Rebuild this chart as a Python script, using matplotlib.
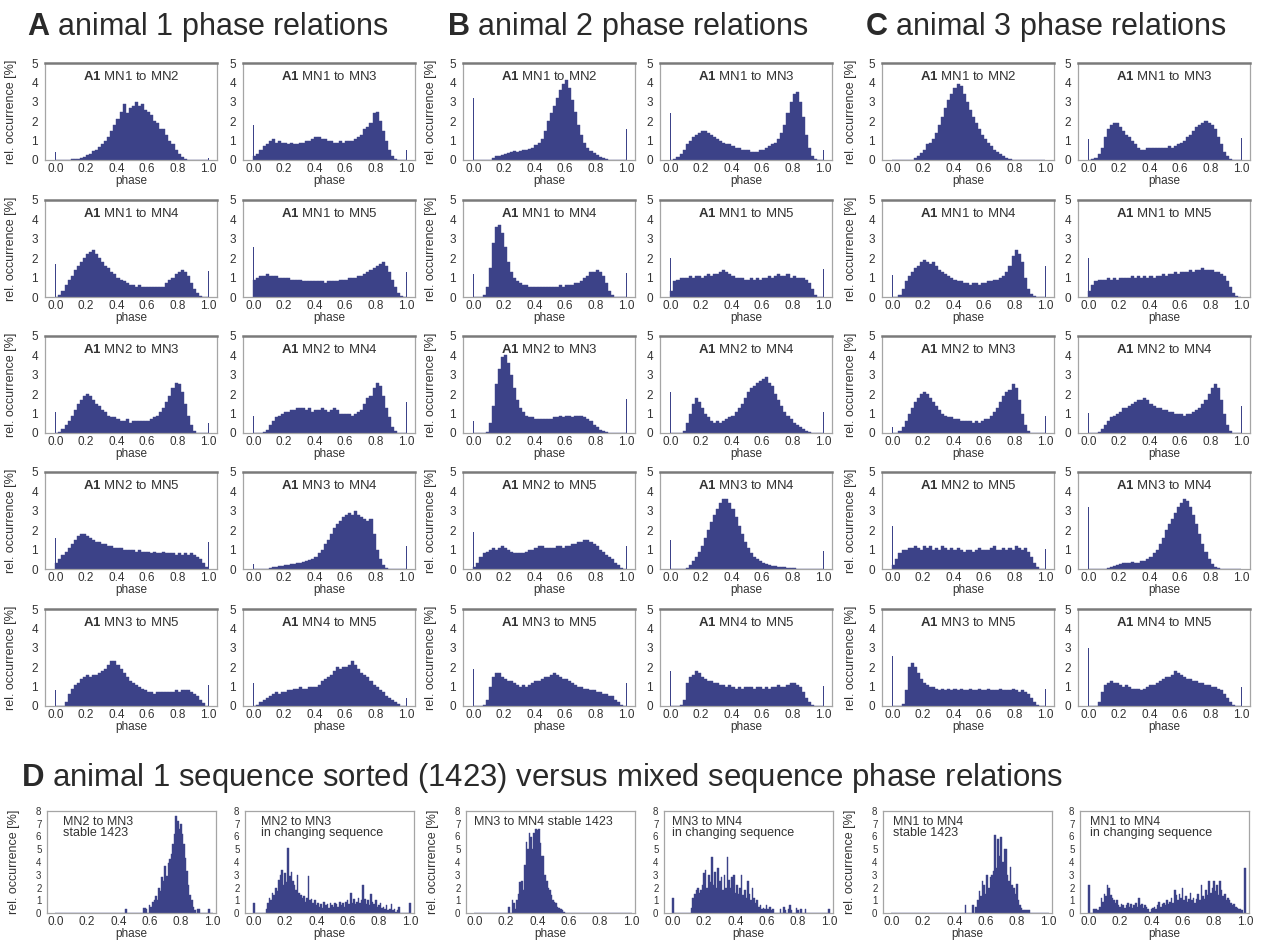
import numpy as np
import matplotlib
matplotlib.use("Agg")
import matplotlib.pyplot as plt

plt.rcParams["font.family"] = ["Liberation Sans", "DejaVu Sans"]
plt.rcParams["mathtext.fontset"] = "custom"
plt.rcParams["mathtext.rm"] = "Liberation Sans"
plt.rcParams["mathtext.bf"] = "Liberation Sans:bold"

# ---------------------------------------------------------------------------
# phase histograms, rel. occurrence [%] in 0.02 phase bins (0.00-1.00)
# plus the single-bin counts at phase exactly 0 and exactly 1
# ---------------------------------------------------------------------------
pairs = ["MN1 to MN2", "MN1 to MN3", "MN1 to MN4", "MN1 to MN5", "MN2 to MN3",
         "MN2 to MN4", "MN2 to MN5", "MN3 to MN4", "MN3 to MN5", "MN4 to MN5"]

# animal 1
a_12 = [0, 0, 0, 0.02, 0.02, 0.03, 0.05, 0.06, 0.1, 0.15,
        0.25, 0.3, 0.45, 0.5, 0.65, 0.8, 1.0, 1.2, 1.5, 1.8,
        2.1, 2.5, 2.9, 2.4, 2.7, 2.8, 3.0, 2.8, 2.9, 2.6,
        2.5, 2.3, 2.0, 1.9, 1.6, 1.6, 1.3, 1.0, 0.8, 0.5,
        0.3, 0.15, 0.05, 0.02, 0, 0, 0, 0, 0, 0]
a_13 = [0.2, 0.3, 0.5, 0.7, 0.8, 1.0, 1.1, 0.9, 1.0, 0.9,
        0.9, 0.8, 0.9, 0.8, 0.8, 0.9, 0.9, 1.0, 1.0, 1.1,
        1.2, 1.2, 1.1, 1.1, 1.0, 1.0, 0.9, 0.9, 1.0, 0.9,
        1.0, 1.0, 1.0, 1.1, 1.2, 1.3, 1.6, 1.7, 1.9, 2.4,
        2.5, 2.0, 1.5, 1.0, 0.5, 0.2, 0.05, 0, 0, 0]
a_14 = [0, 0.1, 0.3, 0.6, 0.9, 1.1, 1.4, 1.6, 1.8, 2.0,
        2.2, 2.3, 2.4, 2.2, 2.0, 1.8, 1.6, 1.5, 1.3, 1.2,
        1.0, 0.9, 0.8, 0.7, 0.6, 0.6, 0.5, 0.6, 0.5, 0.5,
        0.5, 0.5, 0.5, 0.5, 0.5, 0.5, 0.7, 0.9, 1.0, 1.2,
        1.3, 1.4, 1.3, 1.1, 0.7, 0.4, 0.2, 0.05, 0, 0]
a_15 = [0.9, 1.0, 1.1, 1.1, 1.2, 1.1, 1.1, 1.1, 1.0, 1.0,
        1.0, 1.0, 0.9, 0.9, 0.9, 0.9, 0.8, 0.8, 0.8, 0.8,
        0.8, 0.8, 0.8, 0.7, 0.8, 0.8, 0.8, 0.8, 0.9, 0.9,
        0.9, 1.0, 1.0, 1.0, 1.1, 1.1, 1.2, 1.3, 1.4, 1.5,
        1.6, 1.7, 1.8, 1.6, 1.3, 0.9, 0.5, 0.2, 0.05, 0]
a_23 = [0, 0.05, 0.2, 0.4, 0.6, 0.9, 1.2, 1.5, 1.7, 1.9,
        2.0, 1.9, 1.7, 1.5, 1.4, 1.2, 1.1, 0.9, 0.8, 0.8,
        0.7, 0.6, 0.6, 0.7, 0.5, 0.6, 0.6, 0.6, 0.6, 0.6,
        0.6, 0.7, 0.8, 0.9, 1.1, 1.3, 1.6, 1.9, 2.3, 2.6,
        2.5, 2.1, 1.5, 0.9, 0.4, 0.1, 0, 0, 0, 0]
a_24 = [0, 0, 0, 0.05, 0.15, 0.4, 0.6, 0.8, 0.9, 1.0,
        1.1, 1.1, 1.2, 1.2, 1.3, 1.3, 1.3, 1.2, 1.3, 1.1,
        1.2, 1.2, 1.3, 1.2, 1.1, 1.2, 1.3, 1.2, 1.0, 1.0,
        1.0, 1.0, 0.9, 1.0, 1.1, 1.2, 1.5, 1.8, 1.9, 2.3,
        2.6, 2.4, 1.9, 1.3, 0.8, 0.3, 0.1, 0, 0, 0]
a_25 = [0.3, 0.5, 0.7, 0.9, 1.1, 1.3, 1.5, 1.7, 1.8, 1.8,
        1.7, 1.6, 1.5, 1.4, 1.4, 1.3, 1.3, 1.2, 1.2, 1.1,
        1.1, 1.1, 1.0, 1.0, 1.0, 1.0, 0.9, 1.0, 0.9, 0.9,
        0.9, 0.8, 0.9, 0.8, 0.8, 0.9, 0.8, 0.8, 0.8, 0.7,
        0.8, 0.7, 0.8, 0.7, 0.8, 0.7, 0.6, 0.5, 0.3, 0.1]
a_34 = [0, 0, 0, 0, 0.02, 0.05, 0.1, 0.12, 0.15, 0.15,
        0.2, 0.2, 0.25, 0.25, 0.3, 0.3, 0.35, 0.4, 0.45, 0.5,
        0.6, 0.8, 1.0, 1.3, 1.5, 1.8, 2.1, 2.3, 2.5, 2.7,
        2.8, 2.9, 2.8, 3.0, 2.8, 2.7, 2.6, 2.5, 2.6, 1.8,
        1.0, 0.5, 0.2, 0.05, 0, 0, 0, 0, 0, 0]
a_35 = [0, 0, 0, 0.2, 0.6, 0.9, 1.1, 1.2, 1.4, 1.5,
        1.6, 1.5, 1.6, 1.6, 1.7, 1.8, 1.9, 2.1, 2.3, 2.3,
        2.1, 1.9, 1.7, 1.5, 1.3, 1.2, 1.1, 1.0, 0.9, 0.8,
        0.7, 0.7, 0.6, 0.7, 0.7, 0.7, 0.7, 0.7, 0.7, 0.8,
        0.7, 0.8, 0.8, 0.8, 0.7, 0.6, 0.5, 0.3, 0.15, 0.02]
a_45 = [0, 0.05, 0.2, 0.3, 0.4, 0.5, 0.6, 0.7, 0.6, 0.7,
        0.7, 0.8, 0.8, 0.9, 0.9, 1.0, 0.9, 0.9, 1.0, 1.0,
        1.0, 1.1, 1.3, 1.4, 1.5, 1.6, 1.8, 2.0, 1.9, 2.0,
        2.0, 2.1, 2.3, 2.1, 1.9, 1.7, 1.6, 1.5, 1.3, 1.1,
        1.0, 0.8, 0.7, 0.5, 0.4, 0.3, 0.2, 0.1, 0.02, 0]
ends_a = [(0.4, 0.1), (1.8, 0.5), (1.7, 1.35), (2.6, 1.3), (1.1, 0.5),
          (0.9, 1.6), (1.6, 1.4), (0.25, 1.2), (0.8, 1.1), (1.2, 0.4)]

# animal 2
b_12 = [0, 0, 0, 0, 0, 0.02, 0.1, 0.2, 0.2, 0.25,
        0.3, 0.35, 0.4, 0.45, 0.4, 0.45, 0.5, 0.5, 0.55, 0.6,
        0.75, 0.9, 1.1, 1.5, 2.0, 2.4, 2.8, 3.2, 3.6, 3.9,
        4.1, 3.7, 3.1, 2.5, 1.8, 1.3, 0.9, 0.6, 0.45, 0.35,
        0.25, 0.15, 0.1, 0.05, 0.02, 0, 0, 0, 0, 0]
b_13 = [0, 0.05, 0.15, 0.3, 0.5, 0.8, 1.0, 1.2, 1.3, 1.4,
        1.5, 1.5, 1.4, 1.3, 1.2, 1.1, 1.0, 0.9, 0.8, 0.8,
        0.7, 0.6, 0.6, 0.5, 0.5, 0.5, 0.4, 0.4, 0.4, 0.5,
        0.5, 0.6, 0.7, 0.8, 0.9, 1.1, 1.4, 1.8, 2.4, 3.0,
        3.4, 3.5, 3.0, 2.2, 1.3, 0.6, 0.2, 0.05, 0, 0]
b_14 = [0, 0, 0.02, 0.1, 0.5, 1.5, 2.8, 3.6, 3.7, 3.3,
        2.6, 1.8, 1.3, 1.0, 0.8, 0.7, 0.6, 0.6, 0.5, 0.5,
        0.5, 0.5, 0.5, 0.5, 0.5, 0.5, 0.5, 0.5, 0.6, 0.5,
        0.6, 0.6, 0.6, 0.7, 0.7, 0.8, 1.0, 1.1, 1.3, 1.3,
        1.4, 1.3, 1.1, 0.7, 0.3, 0.1, 0.02, 0, 0, 0]
b_15 = [0.3, 0.8, 0.9, 1.0, 1.0, 1.0, 1.1, 1.0, 1.1, 1.1,
        1.0, 1.1, 1.2, 1.1, 1.2, 1.2, 1.3, 1.4, 1.3, 1.2,
        1.1, 1.0, 1.0, 1.0, 0.9, 0.9, 1.0, 0.9, 1.0, 0.9,
        1.0, 1.0, 1.1, 1.0, 1.1, 1.2, 1.1, 1.1, 1.2, 1.0,
        1.1, 1.0, 1.0, 1.0, 0.9, 0.7, 0.4, 0.1, 0, 0]
b_23 = [0, 0, 0, 0, 0.05, 0.5, 1.4, 2.5, 3.3, 3.9,
        4.0, 3.6, 3.0, 2.3, 1.7, 1.3, 1.1, 0.9, 0.8, 0.8,
        0.7, 0.7, 0.7, 0.7, 0.7, 0.7, 0.8, 0.8, 0.9, 0.8,
        0.9, 0.9, 0.8, 0.9, 0.9, 0.9, 0.8, 0.7, 0.6, 0.4,
        0.3, 0.15, 0.1, 0.05, 0.02, 0, 0, 0, 0, 0]
b_24 = [0, 0, 0, 0.02, 0.1, 0.5, 1.0, 1.5, 1.8, 1.6,
        1.3, 1.0, 0.8, 0.6, 0.5, 0.6, 0.5, 0.6, 0.7, 0.8,
        0.9, 1.1, 1.3, 1.5, 1.8, 2.1, 2.3, 2.4, 2.6, 2.7,
        2.8, 2.9, 2.6, 2.4, 2.0, 1.7, 1.4, 1.1, 0.9, 0.7,
        0.5, 0.4, 0.3, 0.2, 0.1, 0.05, 0.02, 0, 0, 0]
b_25 = [0.1, 0.3, 0.6, 0.8, 0.9, 1.0, 1.1, 1.0, 1.1, 1.2,
        1.1, 1.0, 0.9, 0.8, 0.8, 0.8, 0.8, 0.9, 1.0, 1.0,
        1.1, 1.2, 1.2, 1.1, 1.1, 1.1, 1.1, 1.2, 1.2, 1.1,
        1.2, 1.2, 1.3, 1.3, 1.4, 1.4, 1.5, 1.5, 1.4, 1.3,
        1.2, 1.0, 0.9, 0.7, 0.6, 0.5, 0.3, 0.2, 0.05, 0]
b_34 = [0, 0, 0, 0, 0, 0.05, 0.2, 0.4, 0.6, 0.9,
        1.2, 1.6, 2.0, 2.4, 2.8, 3.1, 3.4, 3.6, 3.6, 3.4,
        3.1, 2.7, 2.2, 1.8, 1.4, 1.1, 0.8, 0.6, 0.5, 0.4,
        0.3, 0.25, 0.2, 0.15, 0.15, 0.1, 0.1, 0.08, 0.05, 0.05,
        0.03, 0.02, 0.02, 0, 0, 0, 0, 0, 0, 0]
b_35 = [0, 0, 0, 0.05, 0.3, 1.0, 1.5, 1.7, 1.7, 1.5,
        1.4, 1.3, 1.3, 1.2, 1.1, 1.0, 1.1, 1.0, 1.1, 1.2,
        1.3, 1.3, 1.4, 1.5, 1.5, 1.6, 1.7, 1.6, 1.5, 1.4,
        1.4, 1.3, 1.2, 1.1, 1.0, 1.0, 0.9, 0.9, 0.8, 0.8,
        0.7, 0.7, 0.6, 0.6, 0.5, 0.5, 0.3, 0.2, 0.05, 0]
b_45 = [0, 0, 0, 0.05, 0.3, 1.2, 1.5, 1.6, 1.8, 1.7,
        1.5, 1.4, 1.3, 1.3, 1.2, 1.2, 1.1, 1.1, 1.0, 1.1,
        1.0, 0.9, 1.0, 0.9, 1.0, 1.0, 1.0, 0.9, 1.0, 1.0,
        0.9, 1.0, 0.9, 1.0, 1.0, 1.1, 1.0, 1.0, 1.1, 1.2,
        1.2, 1.1, 1.0, 0.7, 0.4, 0.2, 0.05, 0.02, 0, 0]
ends_b = [(3.2, 1.6), (2.4, 0.5), (1.2, 1.25), (2.0, 1.45), (0.6, 1.75),
          (2.1, 1.1), (1.9, 1.2), (1.5, 0.95), (1.9, 1.2), (1.8, 1.05)]

# animal 3
c_12 = [0, 0, 0, 0, 0, 0, 0.02, 0.1, 0.2, 0.35,
        0.5, 0.8, 0.9, 1.1, 1.4, 1.8, 2.2, 2.7, 3.1, 3.4,
        3.7, 3.9, 3.8, 3.4, 3.0, 2.6, 2.2, 1.9, 1.6, 1.3,
        1.1, 0.9, 0.7, 0.5, 0.4, 0.3, 0.2, 0.1, 0.05, 0.02,
        0, 0, 0, 0, 0, 0, 0, 0, 0, 0]
c_13 = [0, 0.05, 0.1, 0.3, 0.6, 1.2, 1.6, 1.8, 1.9, 1.9,
        1.7, 1.5, 1.3, 1.2, 1.0, 0.8, 0.6, 0.5, 0.5, 0.6,
        0.6, 0.6, 0.6, 0.6, 0.6, 0.6, 0.7, 0.6, 0.7, 0.8,
        0.9, 1.0, 1.2, 1.3, 1.5, 1.7, 1.8, 1.9, 2.0, 1.9,
        1.8, 1.6, 1.2, 0.8, 0.4, 0.2, 0.05, 0, 0, 0]
c_14 = [0, 0.02, 0.1, 0.4, 0.8, 1.1, 1.3, 1.5, 1.6, 1.8,
        1.9, 1.8, 1.7, 1.8, 1.6, 1.4, 1.3, 1.2, 1.1, 1.0,
        0.9, 0.8, 0.8, 0.7, 0.7, 0.6, 0.7, 0.7, 0.6, 0.7,
        0.7, 0.8, 0.8, 0.9, 0.9, 1.0, 1.1, 1.3, 1.6, 2.1,
        2.4, 2.2, 1.8, 1.0, 0.4, 0.15, 0.05, 0, 0, 0]
c_15 = [0.3, 0.6, 0.8, 0.9, 0.9, 0.9, 1.0, 0.9, 1.0, 0.9,
        1.0, 1.0, 1.0, 1.0, 1.1, 1.0, 1.1, 1.0, 1.1, 1.0,
        1.1, 1.0, 1.1, 1.1, 1.2, 1.1, 1.2, 1.2, 1.3, 1.2,
        1.3, 1.3, 1.3, 1.4, 1.3, 1.4, 1.4, 1.5, 1.4, 1.4,
        1.4, 1.3, 1.3, 1.2, 1.1, 0.8, 0.5, 0.2, 0.05, 0]
c_23 = [0, 0.02, 0.1, 0.3, 0.6, 1.0, 1.3, 1.6, 1.8, 2.0,
        2.1, 2.0, 1.8, 1.6, 1.4, 1.2, 1.0, 0.9, 0.8, 0.8,
        0.7, 0.7, 0.6, 0.6, 0.6, 0.6, 0.5, 0.6, 0.5, 0.6,
        0.7, 0.7, 0.9, 1.1, 1.3, 1.6, 1.9, 2.1, 2.2, 2.5,
        2.3, 1.7, 1.0, 0.4, 0.1, 0.02, 0, 0, 0, 0]
c_24 = [0, 0, 0, 0.05, 0.2, 0.4, 0.6, 0.8, 0.9, 1.0,
        1.1, 1.3, 1.3, 1.4, 1.5, 1.6, 1.7, 1.7, 1.8, 1.7,
        1.5, 1.4, 1.3, 1.3, 1.2, 1.2, 1.1, 1.1, 1.0, 1.0,
        1.0, 0.9, 1.0, 1.0, 1.1, 1.2, 1.3, 1.5, 1.7, 2.0,
        2.3, 2.5, 2.3, 1.7, 1.0, 0.4, 0.1, 0.02, 0, 0]
c_25 = [0.2, 0.5, 0.8, 1.0, 1.0, 1.1, 1.1, 1.2, 1.1, 1.0,
        1.2, 1.1, 1.2, 1.0, 1.1, 1.0, 1.2, 1.1, 1.0, 1.1,
        1.0, 1.1, 1.0, 0.9, 1.0, 1.0, 0.9, 1.0, 1.1, 1.0,
        1.0, 1.0, 1.1, 1.2, 1.0, 1.0, 1.1, 1.0, 1.1, 1.0,
        1.2, 1.1, 1.0, 1.1, 0.9, 0.6, 0.3, 0.1, 0.02, 0]
c_34 = [0, 0, 0, 0, 0, 0, 0.05, 0.1, 0.15, 0.2,
        0.25, 0.3, 0.3, 0.3, 0.35, 0.3, 0.3, 0.4, 0.4, 0.5,
        0.6, 0.8, 1.0, 1.3, 1.6, 2.0, 2.3, 2.6, 2.9, 3.2,
        3.4, 3.6, 3.5, 3.2, 2.8, 2.3, 1.8, 1.3, 0.9, 0.5,
        0.25, 0.1, 0.03, 0, 0, 0, 0, 0, 0, 0]
c_35 = [0, 0, 0, 0.1, 0.8, 2.0, 2.2, 2.0, 1.7, 1.4,
        1.2, 1.1, 1.0, 1.0, 0.9, 0.8, 0.9, 0.8, 0.9, 0.8,
        0.9, 0.8, 0.9, 0.8, 0.8, 0.9, 0.8, 0.8, 0.9, 0.8,
        0.8, 0.9, 0.8, 0.8, 0.8, 0.9, 0.8, 0.8, 0.8, 0.9,
        0.8, 0.7, 0.8, 0.7, 0.6, 0.4, 0.2, 0.05, 0, 0]
c_45 = [0, 0, 0, 0.2, 0.7, 1.1, 1.2, 1.3, 1.2, 1.2,
        1.1, 1.0, 1.1, 1.0, 0.9, 0.9, 0.9, 0.8, 0.9, 1.0,
        1.1, 1.1, 1.2, 1.3, 1.4, 1.5, 1.5, 1.6, 1.8, 1.7,
        1.6, 1.5, 1.4, 1.4, 1.3, 1.3, 1.2, 1.2, 1.1, 1.1,
        1.0, 1.0, 0.9, 0.8, 0.6, 0.4, 0.2, 0.05, 0, 0]
ends_c = [(0, 0), (1.1, 1.15), (1.15, 1.6), (2.0, 0), (0.3, 0.9),
          (1.05, 1.4), (2.2, 1.05), (3.2, 0), (2.6, 0.9), (3.0, 1.0)]

# panel D: 0.01 phase bins, phase 0.00 ... 1.00 (101 values)
d_23_stable = [0, 0, 0, 0, 0, 0, 0, 0, 0, 0,
               0, 0, 0, 0, 0, 0, 0, 0, 0, 0,
               0, 0, 0, 0, 0, 0, 0, 0, 0, 0,
               0, 0, 0, 0, 0, 0, 0, 0, 0, 0,
               0, 0, 0, 0, 0, 0.3, 0, 0, 0, 0,
               0, 0, 0, 0, 0, 0, 0.4, 0.4, 0.3, 0,
               0.6, 0.5, 0.9, 1.0, 1.3, 1.0, 2.0, 1.7, 2.8, 2.5,
               3.7, 2.9, 3.9, 4.2, 4.6, 5.4, 6.2, 7.6, 7.2, 6.6,
               7.0, 6.2, 5.4, 4.3, 3.3, 2.2, 1.4, 1.0, 0.5, 0.2,
               0, 0.3, 0.3, 0, 0, 0, 0, 0, 0.3, 0,
               0]
d_23_mixed = [0.8, 0, 0, 0, 0, 0, 0, 0, 0.3, 0.8,
              1.2, 1.0, 1.6, 1.4, 2.0, 1.7, 2.6, 3.0, 3.4, 2.2,
              3.1, 2.4, 5.1, 2.9, 3.2, 2.5, 2.2, 1.8, 3.0, 1.6,
              1.4, 1.2, 1.3, 0.9, 1.2, 2.9, 1.0, 1.1, 0.8, 1.0,
              0.6, 0.8, 0.5, 0.7, 0.4, 0.9, 0.6, 0.7, 0.4, 0.8,
              0.6, 0.5, 0.8, 0.7, 0.5, 0.9, 0.6, 0.8, 0.5, 0.9,
              1.0, 0.7, 1.6, 0.8, 1.1, 0.7, 0.9, 1.2, 0.8, 1.0,
              2.2, 1.1, 0.7, 1.0, 0.6, 1.5, 0.9, 0.7, 1.0, 0.5,
              0.6, 0.8, 0.4, 0.5, 0.3, 0.6, 0.2, 0.3, 0.7, 0.2,
              0.3, 0.1, 0.2, 0.5, 0, 0, 0, 0, 0, 0,
              0.8]
d_34_stable = [0, 0, 0, 0, 0, 0, 0, 0, 0, 0,
               0, 0, 0, 0, 0, 0, 0, 0, 0, 0,
               0, 0, 0.5, 0, 1.0, 0.8, 0.3, 1.0, 1.5, 2.4,
               2.5, 1.8, 3.8, 5.6, 5.0, 6.3, 6.0, 5.0, 6.3, 6.6,
               6.5, 6.6, 5.5, 4.5, 4.5, 3.0, 2.5, 2.0, 1.8, 1.4,
               1.0, 0.9, 0.8, 0.5, 0.4, 0.3, 0.2, 0.1, 0, 0,
               0, 0, 0, 0, 0, 0, 0, 0, 0, 0,
               0, 0, 0, 0, 0, 0, 0, 0, 0, 0,
               0, 0, 0, 0, 0, 0, 0, 0, 0, 0,
               0, 0, 0, 0, 0, 0, 0, 0, 0, 0,
               0]
d_34_mixed = [1.2, 0, 0, 0, 0, 0, 0, 0, 0, 0,
              0, 0, 0.4, 1.2, 1.5, 1.8, 2.0, 1.6, 1.8, 2.2,
              3.1, 3.4, 2.0, 3.0, 2.4, 4.4, 2.2, 3.2, 2.0, 3.5,
              2.5, 2.8, 1.8, 3.0, 2.0, 4.4, 2.6, 2.0, 2.8, 3.0,
              1.6, 2.2, 1.5, 2.0, 3.0, 1.4, 1.8, 1.2, 2.5, 1.5,
              1.0, 2.0, 1.2, 0.8, 1.0, 0.5, 0.6, 0.3, 0.4, 0.3,
              0.6, 0.3, 0.5, 0.2, 0.3, 0, 0, 0, 0, 0.3,
              0, 0.5, 0.2, 0, 0.3, 0.6, 0.2, 0, 0, 0.4,
              0.2, 0, 0.3, 0, 0, 0.3, 0, 0, 0, 0,
              0, 0, 0, 0, 0, 0, 0, 0, 0, 0,
              0.3]
d_14_stable = [0, 0, 0, 0, 0, 0, 0, 0, 0, 0,
               0, 0, 0, 0, 0, 0, 0, 0, 0, 0,
               0, 0, 0, 0, 0, 0, 0, 0, 0, 0,
               0, 0, 0, 0, 0, 0, 0, 0, 0, 0,
               0, 0, 0, 0, 0, 0, 0, 0.6, 0, 0,
               0, 0, 0.6, 0, 0.5, 1.0, 1.7, 1.3, 2.5, 2.2,
               1.5, 3.0, 2.0, 2.8, 3.0, 3.3, 6.1, 3.5, 5.8, 4.5,
               6.0, 4.0, 5.0, 5.0, 3.0, 2.5, 3.6, 2.2, 2.0, 1.5,
               2.3, 1.0, 0.6, 0.4, 0.2, 0.2, 0.2, 0.2, 0.2, 0,
               0, 0, 0, 0, 0, 0, 0, 0, 0, 0,
               0]
d_14_mixed = [2.2, 0, 0, 0.3, 0.3, 0.3, 0.2, 0.5, 1.2, 0.9,
              1.5, 1.3, 2.2, 2.0, 1.4, 1.2, 1.0, 0.8, 1.0, 0.6,
              0.5, 0.7, 0.6, 0.4, 0.6, 0.8, 0.5, 0.7, 0.4, 0.6,
              0.8, 0.5, 1.2, 0.6, 0.7, 0.4, 0.6, 0.5, 0.3, 0.1,
              0.3, 0.4, 0.5, 0.3, 0.6, 0.9, 0.5, 0.7, 0.8, 0.6,
              1.0, 0.7, 0.9, 1.2, 0.8, 1.8, 1.4, 1.0, 1.5, 1.2,
              2.0, 1.0, 1.3, 0.9, 1.1, 1.6, 1.0, 1.2, 0.8, 1.1,
              1.5, 1.0, 2.2, 1.3, 1.1, 1.8, 1.4, 2.5, 1.6, 2.0,
              2.5, 1.7, 2.2, 1.4, 2.5, 1.8, 1.3, 1.5, 1.0, 1.2,
              1.0, 0.8, 0.6, 0.7, 0.5, 0.4, 0.3, 0.3, 0.2, 0,
              3.5]
d_labels = ["MN2 to MN3\nstable 1423", "MN2 to MN3\nin changing sequence",
            "MN3 to MN4 stable 1423", "MN3 to MN4\nin changing sequence",
            "MN1 to MN4\nstable 1423", "MN1 to MN4\nin changing sequence"]

BAR = "#3c4288"
TXT = "#333333"
W, H = 1261, 944

fig = plt.figure(figsize=(W / 100, H / 100), dpi=100)


def add_px_axes(left, top, width, height):
    return fig.add_axes([left / W, 1 - (top + height) / H, width / W, height / H])


def style_frame(ax, heavy_top):
    for side in ("left", "right", "bottom"):
        ax.spines[side].set_color("#a5a5a5")
        ax.spines[side].set_linewidth(0.9)
    ax.spines["top"].set_color("#7a7a7a" if heavy_top else "#a5a5a5")
    ax.spines["top"].set_linewidth(1.8 if heavy_top else 0.9)
    ax.tick_params(length=0, colors=TXT)


def draw_phase(ax, body, ends, pair, ylab_x):
    nb = len(body)
    left_edges = np.linspace(0, 1, nb + 1)[:-1]
    ax.bar(left_edges, body, width=1 / nb, align="edge", color=BAR,
           edgecolor=BAR, linewidth=0.3)
    ax.bar([0.0, 1.0], list(ends), width=0.007, color=BAR, linewidth=0)
    ax.set_xlim(-0.068, 1.058)
    ax.set_ylim(0, 5)
    ax.set_yticks(range(6))
    ax.set_xticks([0, 0.2, 0.4, 0.6, 0.8, 1.0])
    ax.set_xticklabels(["0.0", "0.2", "0.4", "0.6", "0.8", "1.0"])
    ax.tick_params(axis="x", labelsize=8.5, pad=2)
    ax.tick_params(axis="y", labelsize=8.5, pad=5)
    style_frame(ax, True)
    ax.text(0.5, 0.93, r"$\bf{A1}$ " + pair, transform=ax.transAxes,
            ha="center", va="top", fontsize=9.5, color=TXT)
    ax.set_xlabel("phase", fontsize=8.5, color=TXT, labelpad=0)
    if ylab_x is not None:
        ax.set_ylabel("rel. occurrence [%]", fontsize=9, color=TXT)
        ax.yaxis.set_label_coords(ylab_x, 0.5)


columns = [
    ("A", "animal 1 phase relations", 27, [45, 243],
     [a_12, a_13, a_14, a_15, a_23, a_24, a_25, a_34, a_35, a_45], ends_a, -0.165),
    ("B", "animal 2 phase relations", 447, [463, 660],
     [b_12, b_13, b_14, b_15, b_23, b_24, b_25, b_34, b_35, b_45], ends_b, -0.15),
    ("C", "animal 3 phase relations", 865, [882, 1078],
     [c_12, c_13, c_14, c_15, c_23, c_24, c_25, c_34, c_35, c_45], ends_c, -0.148),
]
row_tops = [63, 200, 336, 472, 609]

for letter, heading, hx, lefts, hists, ends, ylab_x in columns:
    fig.text(hx / W, 1 - 35 / H, r"$\bf{" + letter + r"}$ " + heading,
             fontsize=22, color="#2a2a2a", ha="left", va="baseline")
    for i, (body, end, pair) in enumerate(zip(hists, ends, pairs)):
        r, c = divmod(i, 2)
        ax = add_px_axes(lefts[c], row_tops[r], 172, 97)
        draw_phase(ax, body, end, pair, ylab_x if c == 0 else None)

# panel D
fig.text(21 / W, 1 - 786 / H,
         r"$\bf{D}$ animal 1 sequence sorted (1423) versus mixed sequence phase relations",
         fontsize=22.4, color="#2a2a2a", ha="left", va="baseline")

d_hists = [d_23_stable, d_23_mixed, d_34_stable, d_34_mixed, d_14_stable, d_14_mixed]
d_lefts = [47, 245, 466, 664, 883, 1080]
d_text_dx = [16, 16, 8, 8, 10, 10]
phase_bins = np.linspace(0, 1, 101)

for k, (vals, lab) in enumerate(zip(d_hists, d_labels)):
    ax = add_px_axes(d_lefts[k], 811, 169, 102)
    ax.bar(phase_bins, vals, width=0.01, color=BAR, edgecolor=BAR, linewidth=0.3)
    ax.set_xlim(-0.057, 1.025)
    ax.set_ylim(0, 8)
    ax.set_yticks(range(9))
    ax.set_xticks([0, 0.2, 0.4, 0.6, 0.8, 1.0])
    ax.set_xticklabels(["0.0", "0.2", "0.4", "0.6", "0.8", "1.0"])
    ax.tick_params(axis="x", labelsize=8.5, pad=2)
    ax.tick_params(axis="y", labelsize=7, pad=4)
    style_frame(ax, False)
    ax.text(d_text_dx[k] / 169, 0.95, lab, transform=ax.transAxes, ha="left",
            va="top", fontsize=9, color=TXT, linespacing=0.9)
    ax.set_xlabel("phase", fontsize=8.5, color=TXT, labelpad=0)
    if k % 2 == 0:
        ax.set_ylabel("rel. occurrence [%]", fontsize=9, color=TXT)
        ax.yaxis.set_label_coords(-0.16, 0.5)

fig.savefig("out.png", dpi=100, facecolor="white")
